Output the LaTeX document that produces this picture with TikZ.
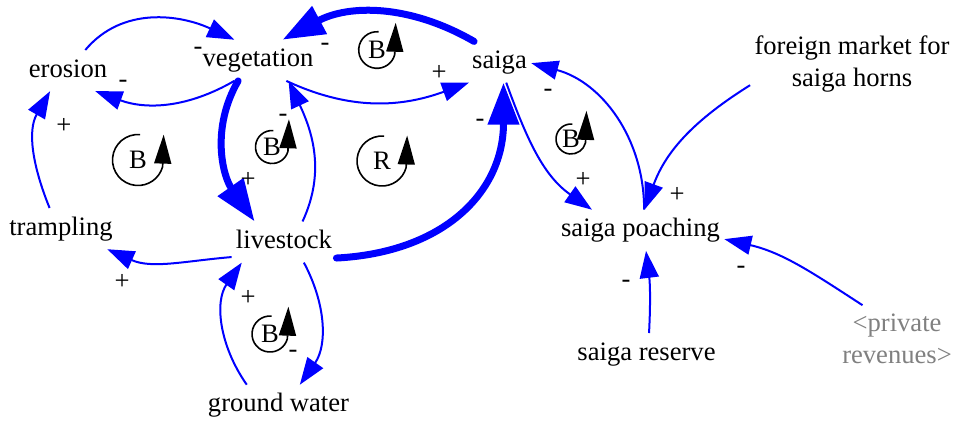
\documentclass[tikz,border=0pt]{standalone}
\usepackage{fontspec}
\setmainfont{Liberation Serif}
\usetikzlibrary{arrows.meta}
\definecolor{linkblue}{RGB}{0,0,255}
\definecolor{ghost}{RGB}{128,128,128}
\begin{document}
\begin{tikzpicture}[x=0.5pt,y=0.5pt,
  var/.style={font=\fontsize{13.3pt}{16pt}\selectfont, text height=9.3pt, text depth=2.9pt, inner xsep=2pt, inner ysep=4pt},
  var2/.style={font=\fontsize{13.3pt}{16pt}\selectfont, align=center, inner xsep=2pt, inner ysep=4pt},
  sign/.style={font=\fontsize{13.3pt}{16pt}\selectfont, inner sep=0pt},
  looptext/.style={font=\fontsize{13.3pt}{16pt}\selectfont, inner sep=0pt},
  link/.style={color=linkblue, line width=1pt, -{Triangle[length=13.5pt,width=9.5pt]}},
  strong/.style={color=linkblue, line width=3.5pt, line cap=round, -{Triangle[length=21pt,width=15pt]}},
  loopline/.style={color=black, line width=0.8pt, -{Triangle[length=14.5pt,width=8.5pt]}}
]
\useasboundingbox (0,0) rectangle (956,-420);

% variables
\node[var] (eros)   at (68,-70.6)    {erosion};
\node[var] (veg)    at (258,-60.3)   {vegetation};
\node[var] (saiga)  at (499.5,-62)   {saiga};
\node[var2] (market) at (852,-63.5)  {foreign market for\\saiga horns};
\node[var] (tramp)  at (61,-228.6)   {trampling};
\node[var] (live)   at (284,-242)    {livestock};
\node[var] (gw)     at (278.5,-405.3) {ground water};
\node[var] (poach)  at (640.5,-230.3) {saiga poaching};
\node[var] (res)    at (646.5,-353.6) {saiga reserve};
\node[var2, text=ghost] (priv) at (897,-338.5) {<private\\revenues>};

% links
\draw[link]   (eros.50)    to[out=50,in=155]  (veg.139);
\draw[link]   (veg.221)    to[out=210,in=-20] (eros.-37);
\draw[strong] (saiga.141)  to[out=150,in=28]  (veg.40);
\draw[link]   (veg.-36)    to[out=-25,in=200] (saiga.214);
\draw[strong] (veg.226)    to[out=240,in=125] (live.145);
\draw[link]   (live.48)    to[out=65,in=-65]  (veg.-34);
\draw[strong] (live.-17)   to[out=3,in=-90,looseness=1.15] (saiga.-79);
\draw[link]   (saiga.-72)  to[out=-70,in=145] (poach.157);
\draw[link]   (poach.80)   to[out=90,in=-15]  (saiga.-2);
\draw[link]   (market.192) to[out=212,in=70]  (poach.79);
\draw[link]   (res.83)     to[out=87,in=-83]  (poach.-75);
\draw[link]   (priv.136)   to[out=147,in=-13] (poach.-6);
\draw[link]   (tramp.119)  to[out=112,in=240] (eros.229);
\draw[link]   (live.196)   to[out=185,in=-24] (tramp.-24);
\draw[link]   (gw.147)     to[out=125,in=235] (live.206);
\draw[link]   (live.-46)   to[out=-62,in=55]  (gw.44);

% polarity signs
\node[sign] (p1)  at (198,-51)  {-};
\node[sign] (p2)  at (123,-84)  {-};
\node[sign] (p3)  at (325,-47)  {-};
\node[sign] (p4)  at (439,-73)  {+};
\node[sign] (p5)  at (248,-180) {+};
\node[sign] (p6)  at (283,-118) {-};
\node[sign] (p7)  at (480,-123) {-};
\node[sign] (p8)  at (583,-180) {+};
\node[sign] (p9)  at (548,-93)  {-};
\node[sign] (p10) at (677,-195) {+};
\node[sign] (p11) at (626,-284) {-};
\node[sign] (p12) at (741,-270) {-};
\node[sign] (p13) at (64,-126)  {+};
\node[sign] (p14) at (122,-282) {+};
\node[sign] (p15) at (248,-298) {+};
\node[sign] (p16) at (293,-354) {-};

% loop markers
\node[looptext] (l1) at (138,-160) {B};
\draw[loopline] (l1.center) ++(85:25.5) arc[start angle=85,end angle=345,radius=25.5] -- ++(1,32);
\node[looptext] (l2) at (272,-147) {B};
\draw[loopline] (l2.center) ++(85:16.5) arc[start angle=85,end angle=345,radius=16.5] -- ++(1,32);
\node[looptext] (l3) at (377,-50) {B};
\draw[loopline] (l3.center) ++(85:18.3) arc[start angle=85,end angle=345,radius=18.3] -- ++(1,32);
\node[looptext] (l4) at (382,-161) {R};
\draw[loopline] (l4.center) ++(85:25) arc[start angle=85,end angle=345,radius=25] -- ++(1,32);
\node[looptext] (l5) at (571,-139) {B};
\draw[loopline] (l5.center) ++(85:15) arc[start angle=85,end angle=345,radius=15] -- ++(1,32);
\node[looptext] (l6) at (270,-334) {B};
\draw[loopline] (l6.center) ++(85:18) arc[start angle=85,end angle=345,radius=18] -- ++(1,32);
\end{tikzpicture}
\end{document}
